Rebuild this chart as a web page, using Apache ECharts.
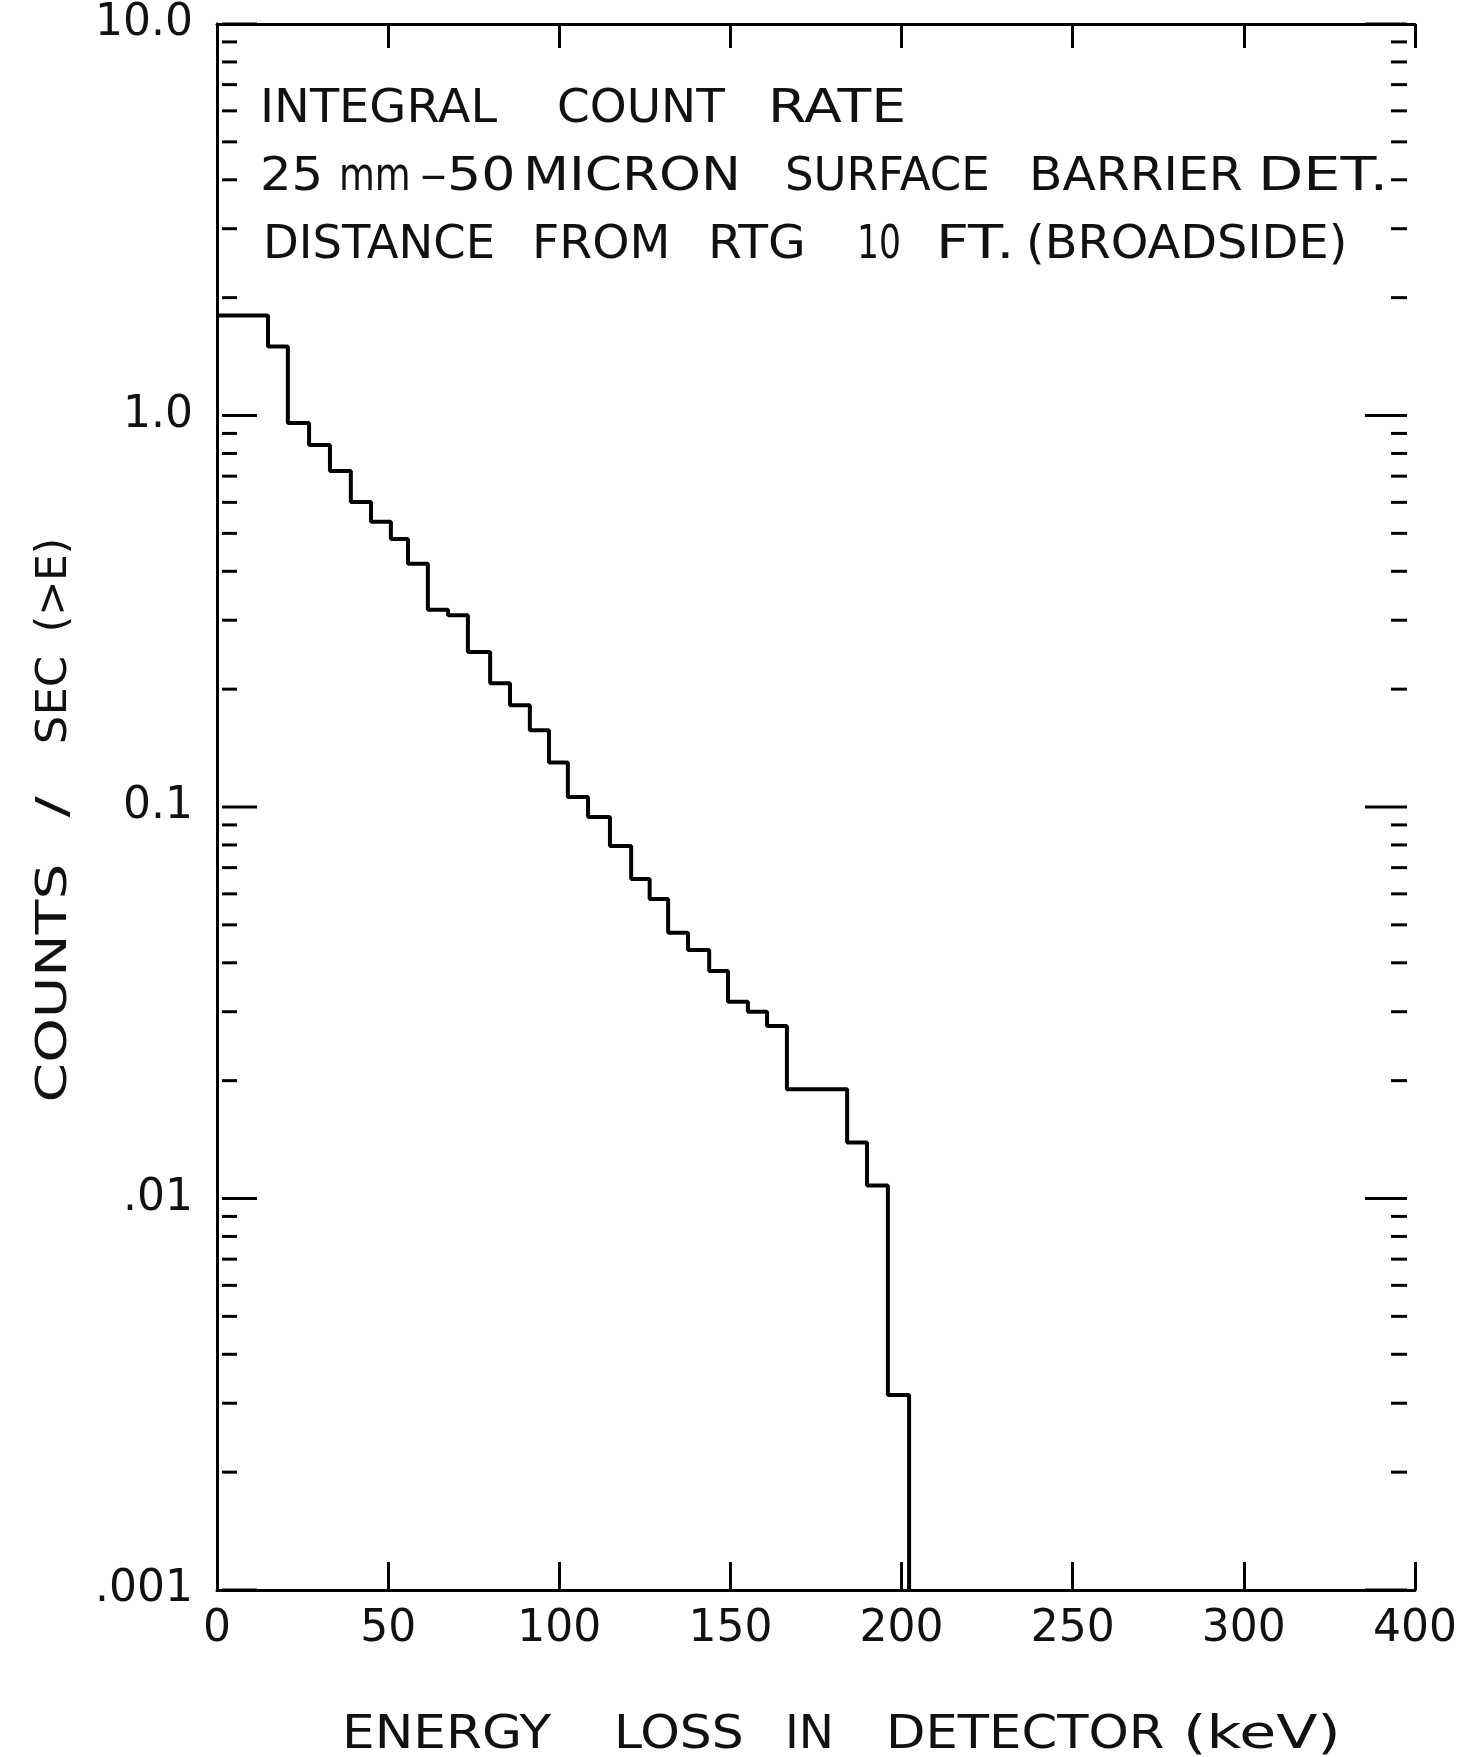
<!DOCTYPE html>
<html>
<head>
<meta charset="utf-8">
<script src="https://cdn.jsdelivr.net/npm/echarts@6/dist/echarts.min.js"></script>
<style>
html,body{margin:0;padding:0;background:#ffffff;}
#chart{width:1474px;height:1757px;}
</style>
</head>
<body>
<div id="chart"></div>
<script>
// ---- data ----
const xTickLabels = ['0', '50', '100', '150', '200', '250', '300', '400'];
const yTickValues = [0.001, 0.01, 0.1, 1, 10];
const yTickLabels = ['.001', '.01', '0.1', '1.0', '10.0'];
// lower edge (keV) of each horizontal step of the integral spectrum
const binStartKeV = [0.0, 14.9, 20.7, 26.9, 33.0, 39.1, 45.0, 50.8, 55.8, 61.6, 67.5,
  73.3, 79.8, 85.6, 91.4, 97.0, 102.5, 108.4, 114.8, 121.0, 126.4, 131.8, 137.6,
  143.8, 149.3, 155.1, 160.7, 166.5, 184.1, 189.9, 196.0];
// integral count rate (counts/sec, >E) on each step
const countRate = [1.80, 1.50, 0.957, 0.841, 0.721, 0.601, 0.535, 0.484, 0.418, 0.319, 0.309,
  0.249, 0.207, 0.182, 0.157, 0.130, 0.106, 0.0943, 0.0795, 0.0655, 0.0582, 0.0477, 0.0431,
  0.0381, 0.0318, 0.0300, 0.0276, 0.0190, 0.0139, 0.0108, 0.00315];
const cutoffKeV = 202.2;
const floorRate = 0.001;
// minor log ticks (2..9 in every decade)
const decades = [0.001, 0.01, 0.1, 1];
const minorMultipliers = [2, 3, 4, 5, 6, 7, 8, 9];

const stepPoints = binStartKeV.map((x, i) => [x, countRate[i]]);
stepPoints.push([cutoffKeV, floorRate]);
const minorTickData = [];
decades.forEach(d => minorMultipliers.forEach(m => minorTickData.push([0, +(d * m).toPrecision(6), 0])));
const majorTickData = yTickValues.map(v => [0, v, 1]);

const FONT = '"DejaVu Sans", "Liberation Sans", sans-serif';
const INK = '#111111';

function word(text, x, y, size, sx) {
  return { type: 'text', x: x, y: y, scaleX: sx || 1, silent: true,
    style: { text: text, fontFamily: FONT, fontSize: size, fill: INK, align: 'left', verticalAlign: 'middle' } };
}
function vword(text, x, y, size, sx) {
  return { type: 'text', x: x, y: y, rotation: Math.PI / 2, scaleX: sx || 1, silent: true,
    style: { text: text, fontFamily: FONT, fontSize: size, fill: INK, align: 'center', verticalAlign: 'middle' } };
}

const chart = echarts.init(document.getElementById('chart'), null, { renderer: 'canvas' });
const axisLineStyle = { color: '#000', width: 3 };
const tickLine = { color: '#000', width: 3 };

chart.setOption({
  animation: false,
  backgroundColor: '#ffffff',
  grid: { left: 217, top: 24, width: 1198, height: 1566, containLabel: false },
  xAxis: [
    { type: 'value', position: 'bottom', min: 0, max: 350, interval: 50,
      axisLine: { show: true, lineStyle: axisLineStyle },
      axisTick: { show: true, inside: true, length: 28, lineStyle: tickLine },
      axisLabel: { show: true, margin: 18, fontSize: 44, fontFamily: FONT, color: INK,
        formatter: v => xTickLabels[Math.round(v / 50)] },
      splitLine: { show: false } },
    { type: 'value', position: 'top', min: 0, max: 350, interval: 50,
      axisLine: { show: true, lineStyle: axisLineStyle },
      axisTick: { show: true, inside: true, length: 24, lineStyle: tickLine },
      axisLabel: { show: false }, splitLine: { show: false } }
  ],
  yAxis: [
    { type: 'log', logBase: 10, position: 'left', min: 0.001, max: 10,
      axisLine: { show: true, lineStyle: axisLineStyle },
      axisTick: { show: false },
      axisLabel: { show: true, margin: 24, fontSize: 44, fontFamily: FONT, color: INK,
        formatter: v => yTickLabels[Math.round(Math.log10(v)) + 3] },
      splitLine: { show: false } },
    { type: 'log', logBase: 10, position: 'right', min: 0.001, max: 10,
      axisLine: { show: true, lineStyle: axisLineStyle },
      axisTick: { show: false },
      axisLabel: { show: false }, splitLine: { show: false } }
  ],
  series: [
    { type: 'line', name: 'integral count rate', xAxisIndex: 0, yAxisIndex: 0,
      data: stepPoints, step: 'end', symbol: 'none', clip: true,
      lineStyle: { color: '#000', width: 4 } },
    { type: 'custom', name: 'y ticks', xAxisIndex: 0, yAxisIndex: 0, silent: true,
      data: minorTickData.concat(majorTickData), clip: false,
      renderItem: (params, api) => {
        const v = api.value(1);
        const major = api.value(2) === 1;
        const l = api.coord([0, v]);
        const r = api.coord([350, v]);
        return { type: 'group', children: [
          { type: 'line', shape: { x1: l[0] + 5, y1: l[1], x2: l[0] + (major ? 40 : 20), y2: l[1] }, style: { stroke: '#000', lineWidth: 3 } },
          { type: 'line', shape: { x1: r[0] - (major ? 50 : 24), y1: r[1], x2: r[0] - 8, y2: r[1] }, style: { stroke: '#000', lineWidth: 3 } }
        ] };
      } }
  ],
  graphic: [
    // annotation block
    word('INTEGRAL', 260, 110, 46, 1.04), word('COUNT', 557, 110, 46, 1.02), word('RATE', 768, 110, 46, 1.2),
    word('25', 260, 178, 46, 1.08), word('mm', 339, 178, 46, 0.8), word('–50', 420, 178, 46, 1.17),
    word('MICRON', 523, 178, 46, 1.16), word('SURFACE', 785, 178, 46, 0.98), word('BARRIER', 1029, 178, 46, 1.06),
    word('DET.', 1258, 178, 46, 1.28),
    word('DISTANCE', 263, 246, 46, 1.01), word('FROM', 532, 246, 46, 1.03), word('RTG', 708, 246, 46, 1.06),
    word('10', 857, 246, 46, 0.75), word('FT.', 936, 246, 46, 1.25), word('(BROADSIDE)', 1026, 246, 46, 1.04),
    // x axis title
    word('ENERGY', 342, 1736, 47, 1.1), word('LOSS', 614, 1736, 47, 1.07), word('IN', 785, 1736, 47, 1.0),
    word('DETECTOR', 886, 1736, 47, 1.09), word('(keV)', 1183, 1736, 47, 1.28),
    // y axis title (reads bottom to top)
    vword('COUNTS', 55, 983, 42, 1.35), vword('/', 55, 807, 42, 1.5), vword('SEC', 55, 700, 42, 1.07), vword('(>E)', 55, 585, 42, 1.0)
  ]
});
</script>
</body>
</html>
